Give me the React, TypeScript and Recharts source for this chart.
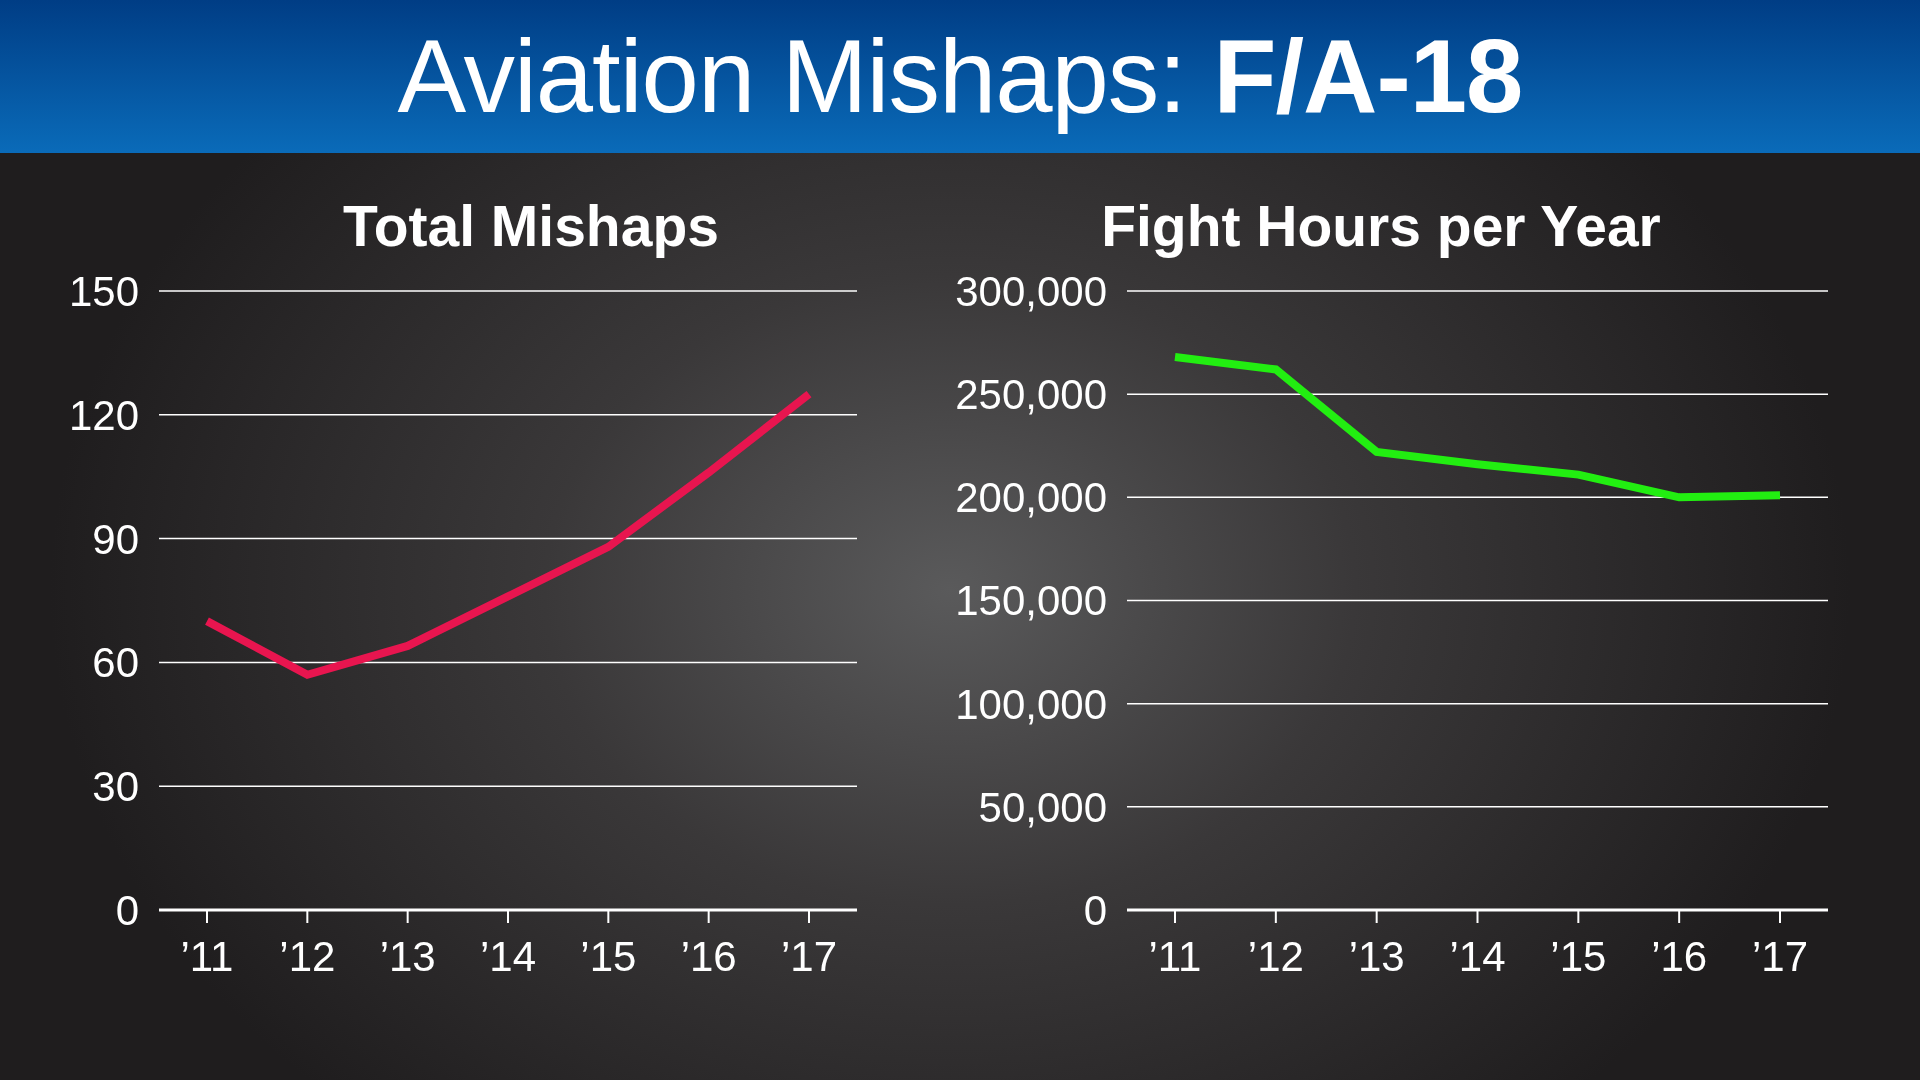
import React from "react";
import { LineChart, Line, XAxis, YAxis, CartesianGrid } from "recharts";

const years = ["’11", "’12", "’13", "’14", "’15", "’16", "’17"];
const mishaps = [70, 57, 64, 76, 88, 106, 125];
const hours = [268000, 262000, 222000, 216000, 211000, 200000, 201000];
const mishapTicks = [0, 30, 60, 90, 120, 150];
const hourTicks = [0, 50000, 100000, 150000, 200000, 250000, 300000];

const leftData = years.map((y, i) => ({ year: y, v: mishaps[i] }));
const rightData = years.map((y, i) => ({ year: y, v: hours[i] }));

const FONT = "'Liberation Sans', Arial, Helvetica, sans-serif";
const tickStyle = { fill: "#fff", fontSize: 42, fontFamily: FONT };

function Panel(props: any) {
  const { data, ticks, domain, color, yWidth, rightMargin, fmt } = props;
  return (
    <div style={{ position: "absolute", left: 0, top: 0 }}>
      <LineChart
        width={1920}
        height={1080}
        data={data}
        margin={{ top: 291, bottom: 110, left: 0, right: rightMargin }}
      >
        <CartesianGrid vertical={false} stroke="#fff" strokeWidth={1.5} />
        <XAxis
          dataKey="year"
          padding={{ left: 48, right: 48 }}
          height={60}
          stroke="#fff"
          axisLine={{ stroke: "#fff", strokeWidth: 3 }}
          tickLine={{ stroke: "#fff", strokeWidth: 2 }}
          tickSize={13}
          tickMargin={18}
          tick={tickStyle}
          interval={0}
        />
        <YAxis
          width={yWidth}
          domain={domain}
          ticks={ticks}
          axisLine={false}
          tickLine={false}
          tickMargin={14}
          tick={tickStyle}
          tickFormatter={fmt}
          interval={0}
        />
        <Line
          type="linear"
          dataKey="v"
          stroke={color}
          strokeWidth={8}
          dot={false}
          isAnimationActive={false}
        />
      </LineChart>
    </div>
  );
}

export default function App() {
  return (
    <div
      style={{
        position: "fixed",
        left: 0,
        top: 0,
        width: 1920,
        height: 1080,
        overflow: "hidden",
        fontFamily: FONT,
        background:
          "radial-gradient(ellipse 900px 700px at 950px 590px, #5a5a5b 0%, #3a3839 45%, #1f1d1e 100%)",
      }}
    >
      <div
        style={{
          position: "absolute",
          left: 0,
          top: 0,
          width: 1920,
          height: 153,
          background: "linear-gradient(#003d85, #0a6bb9)",
          color: "#fff",
          fontSize: 103,
          lineHeight: "153px",
          textAlign: "center",
          letterSpacing: -1,
        }}
      >
        Aviation Mishaps: <b>F/A-18</b>
      </div>
      <Panel
        data={leftData}
        ticks={mishapTicks}
        domain={[0, 150]}
        color="#e8154f"
        yWidth={159}
        rightMargin={1063}
        fmt={(v: number) => String(v)}
      />
      <Panel
        data={rightData}
        ticks={hourTicks}
        domain={[0, 300000]}
        color="#22ee11"
        yWidth={1127}
        rightMargin={92}
        fmt={(v: number) => v.toLocaleString("en-US")}
      />
      <div style={{ position: "absolute", left: 182, width: 698, top: 193, textAlign: "center", color: "#fff", fontSize: 57, fontWeight: "bold" }}>
        Total Mishaps
      </div>
      <div style={{ position: "absolute", left: 1032, width: 698, top: 193, textAlign: "center", color: "#fff", fontSize: 57, fontWeight: "bold" }}>
        Fight Hours per Year
      </div>
    </div>
  );
}
